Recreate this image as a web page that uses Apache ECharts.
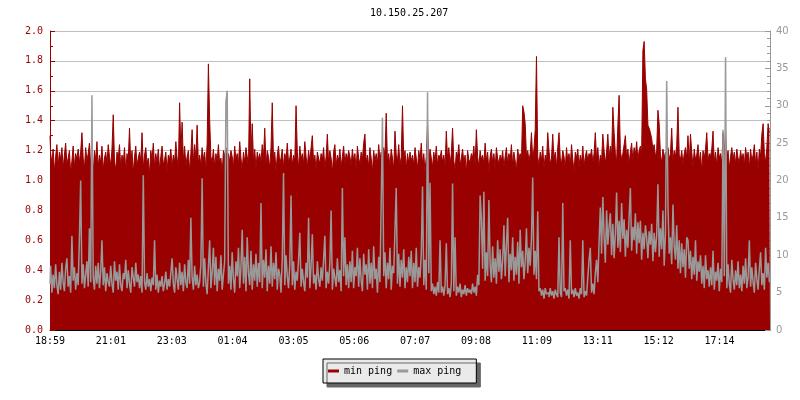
<!DOCTYPE html>
<html>
<head>
<meta charset="utf-8">
<script src="https://cdn.jsdelivr.net/npm/echarts@6/dist/echarts.min.js"></script>
<style>
html,body{margin:0;padding:0;background:#fff;}
#chart{width:800px;height:400px;}
</style>
</head>
<body>
<div id="chart"></div>
<script>
// Title and labels
const chartTitle = '10.150.25.207';
const timeLabels = ['18:59','21:01','23:03','01:04','03:05','05:06','07:07','09:08','11:09','13:11','15:12','17:14'];
const legendNames = ['min ping', 'max ping'];

// min ping (left axis, 0 - 2.0), one value per 2.5 minutes, one row per hour
const minPing = [
  1.30,1.18,1.12,1.21,1.06,1.16,1.24,1.10,1.19,1.14,1.22,1.08,1.17,1.25,1.11,1.15,1.20,1.05,1.13,1.23,1.09,1.18,1.14,1.21,
  1.12,1.19,1.32,1.15,1.08,1.22,1.13,1.18,1.25,1.10,1.16,1.04,1.20,1.14,1.26,1.09,1.17,1.12,1.23,1.07,1.15,1.19,1.11,1.24,
  1.16,1.10,1.21,1.44,1.13,1.07,1.19,1.15,1.24,1.09,1.17,1.12,1.22,1.06,1.18,1.14,1.35,1.11,1.20,1.05,1.16,1.23,1.10,1.15,
  1.19,1.13,1.32,1.08,1.17,1.22,1.11,1.15,1.04,1.20,1.14,1.25,1.09,1.18,1.12,1.21,1.07,1.16,1.23,1.10,1.14,1.19,1.06,1.17,
  1.14,1.21,1.09,1.17,1.12,1.26,1.15,1.08,1.52,1.19,1.39,1.13,1.23,1.10,1.16,1.20,1.06,1.18,1.34,1.12,1.24,1.15,1.37,1.11,
  1.17,1.10,1.22,1.14,1.19,1.07,1.25,1.78,1.41,1.16,1.12,1.21,1.09,1.18,1.13,1.24,1.11,1.15,1.05,1.20,1.16,1.22,1.10,1.18,
  1.13,1.20,1.16,1.09,1.23,1.14,1.18,1.11,1.26,1.15,1.07,1.19,1.12,1.22,1.16,1.10,1.68,1.17,1.38,1.13,1.21,1.08,1.19,1.14,
  1.18,1.12,1.24,1.15,1.35,1.10,1.20,1.16,1.08,1.22,1.52,1.13,1.19,1.06,1.17,1.23,1.11,1.15,1.21,1.09,1.18,1.14,1.25,1.12,
  1.15,1.21,1.10,1.17,1.13,1.50,1.19,1.08,1.23,1.14,1.18,1.11,1.26,1.16,1.09,1.20,1.13,1.22,1.30,1.12,1.17,1.07,1.19,1.15,
  1.11,1.18,1.14,1.22,1.08,1.16,1.31,1.12,1.20,1.15,1.05,1.19,1.24,1.10,1.17,1.13,1.21,1.09,1.16,1.23,1.11,1.18,1.14,1.20,
  1.16,1.10,1.21,1.13,1.18,1.07,1.23,1.15,1.11,1.19,1.14,1.25,1.31,1.12,1.17,1.09,1.22,1.15,1.06,1.20,1.13,1.18,1.11,1.24,
  1.14,1.19,1.11,1.22,1.16,1.45,1.12,1.18,1.09,1.21,1.15,1.07,1.33,1.17,1.13,1.24,1.10,1.16,1.50,1.14,1.20,1.08,1.18,1.12,
  1.19,1.13,1.17,1.10,1.22,1.15,1.08,1.20,1.14,1.25,1.11,1.18,1.06,1.16,1.38,1.12,1.21,1.15,1.09,1.19,1.13,1.23,1.10,1.17,
  1.15,1.20,1.12,1.17,1.09,1.33,1.14,1.22,1.11,1.18,1.35,1.13,1.07,1.19,1.16,1.24,1.10,1.15,1.21,1.12,1.17,1.05,1.20,1.14,
  1.12,1.18,1.15,1.23,1.10,1.34,1.16,1.09,1.20,1.14,1.17,1.11,1.25,1.13,1.19,1.06,1.16,1.21,1.12,1.18,1.08,1.22,1.15,1.11,
  1.17,1.13,1.20,1.09,1.16,1.22,1.11,1.18,1.14,1.24,1.10,1.19,1.13,1.07,1.21,1.15,1.18,1.12,1.50,1.46,1.38,1.16,1.20,1.13,
  1.18,1.32,1.14,1.21,1.34,1.83,1.16,1.10,1.19,1.13,1.23,1.08,1.17,1.12,1.32,1.20,1.11,1.15,1.31,1.14,1.19,1.09,1.22,1.32,
  1.15,1.11,1.20,1.16,1.08,1.22,1.13,1.18,1.10,1.24,1.14,1.06,1.19,1.15,1.21,1.09,1.17,1.12,1.23,1.10,1.16,1.20,1.13,1.18,
  1.16,1.21,1.12,1.18,1.32,1.14,1.22,1.09,1.17,1.13,1.31,1.20,1.11,1.19,1.31,1.15,1.23,1.16,1.49,1.32,1.18,1.12,1.37,1.57,
  1.20,1.14,1.18,1.24,1.30,1.15,1.21,1.11,1.19,1.25,1.13,1.22,1.17,1.26,1.14,1.20,1.23,1.18,1.87,1.93,1.68,1.61,1.37,1.35,
  1.32,1.28,1.21,1.24,1.16,1.20,1.47,1.38,1.17,1.12,1.21,1.15,1.19,1.10,1.22,1.14,1.18,1.35,1.13,1.20,1.16,1.23,1.49,1.17,
  1.14,1.20,1.11,1.18,1.22,1.15,1.30,1.12,1.31,1.19,1.09,1.21,1.14,1.17,1.24,1.12,1.19,1.06,1.20,1.15,1.21,1.32,1.13,1.18,
  1.16,1.21,1.33,1.12,1.19,1.10,1.22,1.15,1.18,1.11,1.32,1.17,1.33,1.14,1.20,1.08,1.16,1.22,1.14,1.19,1.11,1.21,1.15,1.12,
  1.20,1.14,1.18,1.10,1.22,1.15,1.19,1.08,1.21,1.13,1.17,1.24,1.11,1.19,1.07,1.21,1.16,1.31,1.38,1.18,1.12,1.22,1.38,1.32
];

// max ping (right axis, 0 - 40), one value per 2.5 minutes, one row per hour
const maxPing = [
  6.2,8.6,5.0,7.4,5.6,8.8,6.0,4.8,7.8,5.4,9.0,6.4,5.2,8.2,9.6,5.8,7.2,5.0,12.6,6.6,8.4,5.4,7.6,6.0,
  12.4,20.0,6.2,8.8,5.6,7.4,9.2,5.8,13.6,6.4,31.4,7.0,5.4,8.6,6.2,9.0,5.6,7.8,12.0,6.0,8.4,5.2,7.6,6.4,
  5.8,8.6,6.2,5.0,9.2,6.6,7.8,5.4,8.8,6.0,5.2,7.6,6.8,9.4,5.6,8.0,6.2,5.0,8.4,7.0,5.8,9.0,6.4,7.4,
  5.6,7.2,5.0,20.7,6.4,5.4,7.6,5.8,6.8,5.2,7.0,6.0,12.0,5.4,7.4,5.0,6.6,5.8,7.2,5.2,6.2,7.8,5.4,6.8,
  5.8,7.6,9.6,6.2,5.0,8.4,6.8,5.4,9.0,6.0,7.8,5.2,8.8,6.4,5.6,9.4,6.2,15.0,7.0,5.4,8.6,6.0,7.4,5.6,
  6.4,8.8,20.3,5.8,9.6,6.2,4.8,8.4,12.0,5.6,7.8,11.0,6.0,9.8,5.2,8.2,6.6,10.0,5.4,7.4,9.2,30.6,32.0,6.2,
  8.6,5.4,10.4,6.8,5.0,9.2,7.2,11.0,5.6,8.4,13.4,6.2,9.8,5.2,12.4,7.6,6.0,10.6,5.4,8.8,6.6,10.2,5.8,9.0,
  6.4,17.0,5.6,9.4,7.0,10.8,5.2,8.6,6.2,11.2,5.8,9.0,6.8,10.4,5.4,8.2,7.4,5.0,9.6,21.0,6.0,10.0,7.2,5.6,
  8.8,18.0,6.0,9.2,5.4,7.8,6.6,9.4,13.0,5.8,8.2,6.4,5.2,9.0,7.0,15.0,5.6,8.6,12.8,6.2,7.4,5.4,9.2,6.8,
  5.8,8.4,6.6,9.4,12.6,5.6,7.8,6.2,9.0,16.0,5.4,8.2,7.0,5.8,9.6,6.4,8.0,5.2,19.0,7.2,12.4,6.0,8.8,5.6,
  9.2,6.4,10.6,5.6,8.4,7.2,11.0,5.8,9.6,6.6,5.2,10.2,7.4,8.8,5.4,10.8,6.2,9.0,5.6,11.2,6.8,8.2,5.0,9.8,
  6.4,17.0,28.4,7.2,10.4,5.6,9.0,6.8,11.0,5.4,8.6,7.6,13.4,19.0,6.2,10.2,5.8,9.4,7.0,10.8,5.6,8.4,6.4,9.8,
  7.2,10.6,5.6,9.0,6.4,11.0,5.8,8.4,7.0,10.2,19.2,6.0,9.4,5.4,31.8,7.6,19.7,5.2,6.2,4.8,5.8,4.6,6.4,5.0,
  12.0,5.0,5.8,4.6,6.0,11.6,4.8,5.6,4.4,6.2,19.6,5.2,12.4,4.6,5.8,5.0,6.2,4.4,5.4,4.8,6.0,4.6,5.6,5.0,
  5.4,4.8,6.2,5.0,5.8,4.6,7.4,6.0,18.0,14.8,8.2,18.5,6.6,10.4,7.2,17.4,8.8,6.4,11.2,7.0,9.6,6.2,12.0,7.8,
  10.8,6.8,9.4,14.0,7.2,11.4,15.0,6.4,10.2,8.0,12.4,6.6,9.8,7.4,11.8,6.2,13.4,8.4,10.6,6.8,9.2,13.6,7.6,11.0,
  8.6,12.2,20.4,7.4,10.6,6.8,15.9,5.2,5.6,4.6,5.4,4.2,5.6,4.8,5.0,4.4,5.6,4.6,5.2,4.2,5.4,4.8,4.4,12.4,
  5.0,4.4,17.0,5.2,5.6,4.6,5.4,4.2,12.0,4.8,5.4,4.4,5.6,4.6,5.0,4.2,5.6,4.8,12.0,4.4,5.2,4.6,7.0,9.4,
  11.0,5.0,6.2,4.8,7.6,9.4,6.4,11.8,16.4,10.2,17.8,12.6,9.0,16.0,11.4,13.8,15.6,10.0,14.2,9.6,12.8,18.4,11.0,14.6,
  10.4,17.0,12.2,14.8,9.8,13.4,11.0,15.2,19.0,10.6,13.8,12.0,15.6,10.2,14.4,11.6,14.6,9.4,13.0,10.8,14.0,12.4,9.6,13.2,
  11.4,14.2,9.2,13.0,10.4,12.6,19.5,9.8,13.6,10.8,16.0,8.6,12.8,33.3,17.0,10.2,12.4,8.8,16.8,11.2,9.4,14.0,8.2,12.0,
  7.6,11.6,8.4,10.8,7.0,12.4,12.0,8.2,10.6,6.8,9.8,7.4,12.0,6.6,9.2,7.8,10.0,6.2,8.6,5.6,10.0,6.8,8.0,5.8,
  8.4,6.0,10.6,5.4,7.8,6.6,9.0,5.2,8.2,6.4,26.8,7.2,36.5,5.6,8.8,6.2,5.0,9.4,6.8,5.4,8.0,6.0,9.2,5.6,
  7.4,5.2,8.6,6.2,9.6,5.6,7.0,12.0,5.8,8.4,6.4,5.0,9.0,6.8,5.4,8.2,10.4,6.0,7.6,5.4,11.0,7.0,9.0,6.4
];

// x axis in units of one label step; full axis spans a little less than 12 steps
const X_MAX = 11.83;
const N = minPing.length;
const xAt = i => i * X_MAX / (N - 1);
const minData = minPing.map((v, i) => [xAt(i), v]);
const maxData = maxPing.map((v, i) => [xAt(i), v]);

const RED = '#990000';
const GRAY = '#999999';
const MONO = 'DejaVu Sans Mono';

const chart = echarts.init(document.getElementById('chart'), null, {renderer: 'canvas'});
chart.setOption({
  animation: false,
  backgroundColor: '#ffffff',
  title: {
    text: chartTitle,
    left: 370,
    top: 8,
    padding: 0,
    textStyle: {fontFamily: MONO, fontSize: 10, fontWeight: 'normal', color: '#000'}
  },
  legend: {
    data: legendNames,
    left: 323,
    top: 359,
    orient: 'horizontal',
    padding: [7, 15, 7, 5],
    itemWidth: 11,
    itemHeight: 3,
    itemGap: 5,
    icon: 'rect',
    backgroundColor: '#eaeaea',
    borderColor: '#000',
    borderWidth: 1,
    borderRadius: 0,
    shadowColor: '#666666',
    shadowBlur: 0,
    shadowOffsetX: 4,
    shadowOffsetY: 4,
    textStyle: {fontFamily: MONO, fontSize: 10, color: '#000'}
  },
  grid: {left: 50, right: 30, top: 31, bottom: 70, containLabel: false, outerBoundsMode: 'none'},
  xAxis: {
    type: 'value',
    min: 0,
    max: X_MAX,
    interval: 1,
    axisLine: {show: true, onZero: false, lineStyle: {color: '#000', width: 1}},
    axisTick: {show: true, inside: true, length: 5, lineStyle: {color: '#000'}},
    splitLine: {show: false},
    axisLabel: {
      margin: 6,
      fontFamily: MONO,
      fontSize: 10,
      color: '#000',
      showMaxLabel: false,
      formatter: v => {
        const k = Math.round(v);
        return Math.abs(v - k) < 1e-6 && timeLabels[k] ? timeLabels[k] : '';
      }
    }
  },
  yAxis: [
    {
      type: 'value',
      position: 'left',
      min: 0,
      max: 2,
      interval: 0.2,
      axisLine: {show: true, lineStyle: {color: RED, width: 1}},
      axisTick: {show: true, inside: true, length: 5, lineStyle: {color: RED}},
      minorTick: {show: true, splitNumber: 2, length: 3, lineStyle: {color: RED}},
      splitLine: {show: true, lineStyle: {color: '#c0c0c0', width: 1}},
      axisLabel: {margin: 7, fontFamily: MONO, fontSize: 10, color: RED, formatter: v => v.toFixed(1)}
    },
    {
      type: 'value',
      position: 'right',
      min: 0,
      max: 40,
      interval: 5,
      axisLine: {show: true, lineStyle: {color: GRAY, width: 1}},
      axisTick: {show: true, inside: true, length: 5, lineStyle: {color: GRAY}},
      minorTick: {show: true, splitNumber: 5, length: 3, lineStyle: {color: GRAY}},
      splitLine: {show: false},
      axisLabel: {margin: 6, fontFamily: 'DejaVu Sans', fontSize: 10, color: GRAY}
    }
  ],
  series: [
    {
      name: legendNames[0],
      type: 'line',
      yAxisIndex: 0,
      data: minData,
      step: 'middle',
      showSymbol: false,
      symbol: 'none',
      sampling: false,
      lineStyle: {color: RED, width: 1},
      itemStyle: {color: RED},
      areaStyle: {color: RED, opacity: 1},
      z: 2
    },
    {
      name: legendNames[1],
      type: 'line',
      yAxisIndex: 1,
      data: maxData,
      step: 'middle',
      showSymbol: false,
      symbol: 'none',
      sampling: false,
      lineStyle: {color: GRAY, width: 1.5},
      itemStyle: {color: GRAY},
      z: 3
    }
  ]
});
</script>
</body>
</html>
